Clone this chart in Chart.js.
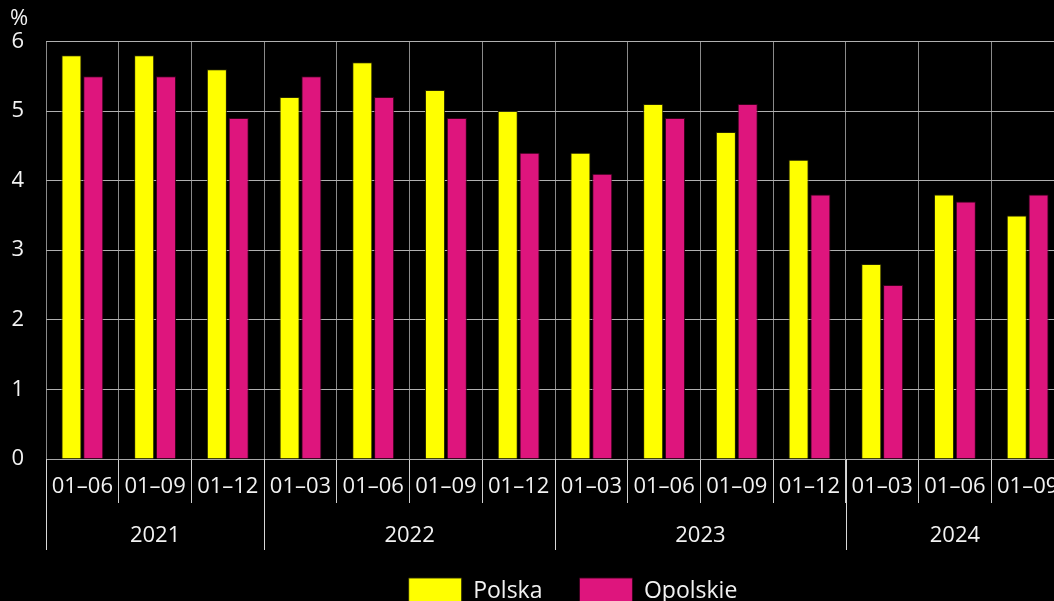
<!DOCTYPE html>
<html lang="pl">
<head>
<meta charset="utf-8">
<title>Polska / Opolskie</title>
<script src="https://cdn.jsdelivr.net/npm/chart.js@4.4.1/dist/chart.umd.min.js"></script>
<style>
    html, body { margin: 0; padding: 0; background: #000; overflow: hidden; }
    #chartBox { width: 1146px; height: 614px; }
</style>
</head>
<body>
<div id="chartBox"><canvas id="mainChart" width="1146" height="614"></canvas></div>
<script>
// 카테고리 (월 구간)
const months = ['01–06', '01–09', '01–12', '01–03', '01–06', '01–09', '01–12',
    '01–03', '01–06', '01–09', '01–12', '01–03', '01–06', '01–09'];
// 연도 그룹
const years = ['2021', '2022', '2023', '2024'];
const monthsPerYear = [3, 4, 4, 3];

// 시리즈 값 (%)
const polska = [5.8, 5.8, 5.6, 5.2, 5.7, 5.3, 5.0, 4.4, 5.1, 4.7, 4.3, 2.8, 3.8, 3.5];
const opolskie = [5.5, 5.5, 4.9, 5.5, 5.2, 4.9, 4.4, 4.1, 4.9, 5.1, 3.8, 2.5, 3.7, 3.8];

// y축 눈금
const yMin = 0;
const yMax = 6;
const yStep = 1;

const FONT = "'Open Sans', 'Noto Sans', sans-serif";
const TEXT_COLOR = '#f2f2f2';

// 연도 라벨과 구분선 그리기
const yearAxisPlugin = {
    id: 'yearAxis',
    afterDraw(chart) {
        const ctx = chart.ctx;
        const xScale = chart.scales.x;
        const bottom = chart.chartArea.bottom;
        const step = xScale.width / months.length;
        let start = 0;

        ctx.save();
        ctx.strokeStyle = '#d8d8d8';
        ctx.lineWidth = 1;
        ctx.fillStyle = TEXT_COLOR;
        ctx.font = '22px ' + FONT;
        ctx.textAlign = 'center';
        ctx.textBaseline = 'middle';

        years.forEach((year, i) => {
            const left = xScale.getPixelForValue(start) - step / 2;
            const right = left + monthsPerYear[i] * step;
            const lx = Math.round(left) + 0.5;
            ctx.beginPath();
            ctx.moveTo(lx, bottom);
            ctx.lineTo(lx, bottom + 91);
            ctx.stroke();
            ctx.fillText(year, (left + right) / 2, bottom + 77);
            start += monthsPerYear[i];
        });
        ctx.restore();
    }
};

new Chart(document.getElementById('mainChart'), {
    type: 'bar',
    data: {
        labels: months,
        datasets: [{
            label: 'Polska',
            data: polska,
            backgroundColor: '#ffff00',
            borderColor: 'rgba(40, 40, 0, 0.9)',
            borderWidth: 1,
            categoryPercentage: 0.6,
            barPercentage: 0.92
        }, {
            label: 'Opolskie',
            data: opolskie,
            backgroundColor: '#de157d',
            borderColor: 'rgba(60, 0, 30, 0.9)',
            borderWidth: 1,
            categoryPercentage: 0.6,
            barPercentage: 0.92
        }]
    },
    options: {
        responsive: false,
        animation: false,
        layout: {
            padding: { left: 10, right: 10, top: 0, bottom: 0 }
        },
        scales: {
            x: {
                offset: true,
                grid: {
                    display: true,
                    offset: true,
                    color: '#8a8a8a',
                    tickColor: '#d0d0d0',
                    tickLength: 44,
                    drawTicks: true
                },
                border: { display: true, color: '#a8a8a8' },
                ticks: {
                    color: TEXT_COLOR,
                    font: { family: FONT, size: 22 },
                    padding: -29,
                    maxRotation: 0,
                    autoSkip: false
                },
                afterFit: function(scale) {
                    scale.height = 82;
                }
            },
            y: {
                min: yMin,
                max: yMax,
                grid: {
                    color: '#b0b0b0',
                    drawTicks: false
                },
                border: { display: false },
                ticks: {
                    stepSize: yStep,
                    color: TEXT_COLOR,
                    font: { family: FONT, size: 22 },
                    padding: 22
                },
                afterFit: function(scale) {
                    scale.width = 36;
                }
            },
            // 오른쪽 여백용 축
            yRight: {
                position: 'right',
                display: true,
                grid: { display: false },
                border: { display: false },
                ticks: { display: false },
                afterFit: function(scale) {
                    scale.width = 72;
                }
            }
        },
        plugins: {
            title: {
                display: true,
                text: '%',
                align: 'start',
                color: TEXT_COLOR,
                font: { family: FONT, size: 22, weight: 'normal' },
                padding: { top: 6, bottom: 9 }
            },
            legend: {
                position: 'bottom',
                labels: {
                    color: TEXT_COLOR,
                    font: { family: FONT, size: 23 },
                    boxWidth: 53,
                    boxHeight: 26,
                    padding: 37
                }
            },
            tooltip: { enabled: false }
        }
    },
    plugins: [yearAxisPlugin]
});
</script>
</body>
</html>
